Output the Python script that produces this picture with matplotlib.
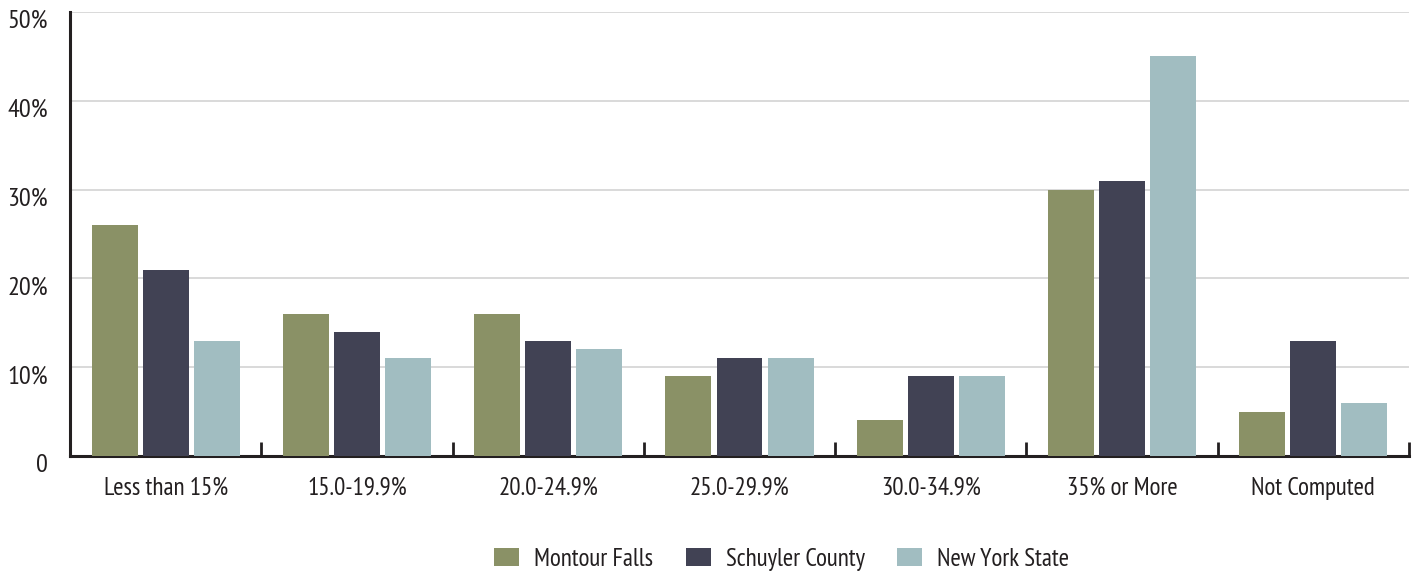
import numpy as np
import matplotlib.pyplot as plt
from matplotlib import font_manager
from matplotlib.transforms import ScaledTranslation

categories = ["Less than 15%", "15.0-19.9%", "20.0-24.9%", "25.0-29.9%",
              "30.0-34.9%", "35% or More", "Not Computed"]
montour_falls = [26, 16, 16, 9, 4, 30, 5]
schuyler_county = [21, 14, 13, 11, 9, 31, 13]
new_york_state = [13, 11, 12, 11, 9, 45, 6]

series = [("Montour Falls", montour_falls, "#8A9166"),
          ("Schuyler County", schuyler_county, "#414254"),
          ("New York State", new_york_state, "#A1BDC1")]

# pick a condensed face close to Myriad Condensed if one is installed
names = {f.name for f in font_manager.fontManager.ttflist}
fam = "DejaVu Sans"
for cand in ["PT Sans Narrow", "Roboto Condensed", "Archivo Narrow", "Fira Sans Condensed",
             "Asap Condensed", "Encode Sans Condensed", "Sofia Sans Condensed",
             "Barlow Semi Condensed", "Open Sans Condensed", "Liberation Sans Narrow"]:
    if cand in names:
        fam = cand
        break
plt.rcParams['font.family'] = [fam, 'DejaVu Sans']
txt = "#231F20"

fig = plt.figure(figsize=(14.16, 5.75), dpi=100)
ax = fig.add_axes([70/1416, 1-456/575, 1339/1416, 444/575])

x = np.arange(len(categories))
w = 0.24
step = 0.267
for i, (name, vals, col) in enumerate(series):
    ax.bar(x + (i-1)*step, vals, width=w, color=col, label=name, zorder=3)

ax.set_xlim(-0.5, len(categories)-0.5)
ax.set_ylim(0, 50)
ax.set_yticks([0, 10, 20, 30, 40, 50])
ax.set_yticklabels(["0", "10%", "20%", "30%", "40%", "50%"])
ax.yaxis.grid(True, color="#D3D3D3", linewidth=1.2, zorder=0)
ax.tick_params(axis='y', length=0, labelsize=19, pad=16, colors=txt)
# labels sit a little below their gridlines in the original
shift = ScaledTranslation(0, -7/100, fig.dpi_scale_trans)
for lab in ax.get_yticklabels():
    lab.set_transform(lab.get_transform() + shift)

ax.set_xticks(x)
ax.set_xticklabels(categories)
ax.tick_params(axis='x', length=0, labelsize=18, pad=15, colors=txt)
ax.set_xticks(np.arange(0.5, len(categories), 1), minor=True)
ax.tick_params(axis='x', which='minor', direction='in', length=10, width=2, color=txt)

for s in ["top", "right"]:
    ax.spines[s].set_visible(False)
for s in ["left", "bottom"]:
    ax.spines[s].set_linewidth(2.2)
    ax.spines[s].set_color(txt)

leg = fig.legend(loc="lower center", bbox_to_anchor=(0.552, -0.032), ncol=3, frameon=False,
                 fontsize=18, handlelength=1.0, handleheight=0.75, columnspacing=1.3,
                 handletextpad=0.6)
for t in leg.get_texts():
    t.set_color(txt)

fig.savefig("out.png", dpi=100)
